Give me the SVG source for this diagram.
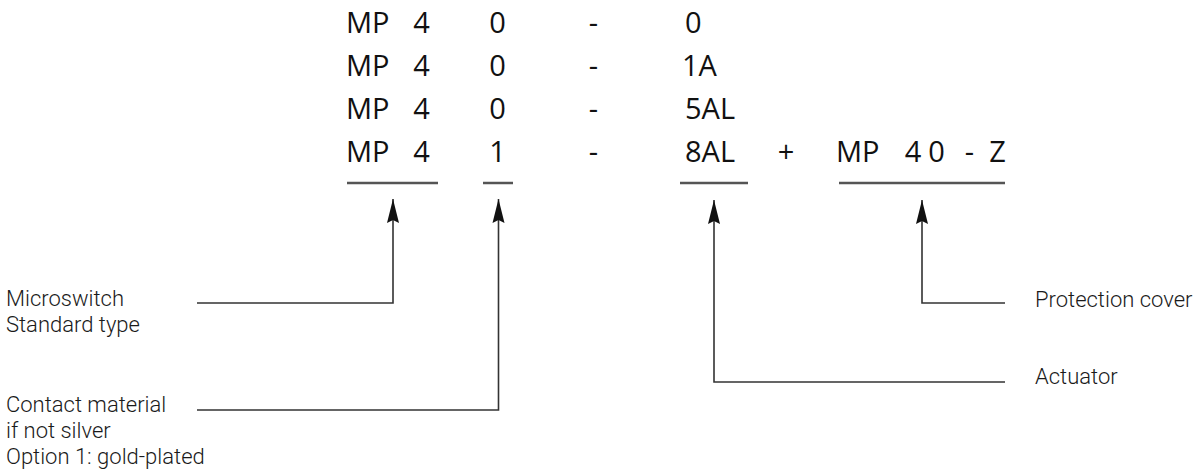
<svg xmlns="http://www.w3.org/2000/svg" width="1199" height="473" viewBox="0 0 1199 473">
<style>
.big{font-family:"Open Sans","Noto Sans","Liberation Sans",sans-serif;font-size:29px;fill:#111}
.lbl{font-family:Roboto,"Open Sans","Liberation Sans",sans-serif;font-size:22px;font-weight:300;fill:#1a1a1a}
.ul{stroke:#555;stroke-width:2.5;fill:none}
.conn{stroke:#333;stroke-width:1.6;fill:none}
.m{text-anchor:middle}
</style>
<defs>
<marker id="arr" viewBox="0 0 24 14" refX="24" refY="7" markerWidth="24" markerHeight="14" markerUnits="userSpaceOnUse" orient="auto">
<path d="M0,1 L24,7 L0,13 L3,7 Z" fill="#111"/>
</marker>
</defs>
<rect width="1199" height="473" fill="#fff"/>
<g id="code">
<text class="big" x="346" y="33">MP</text><text class="big m" x="421.5" y="33">4</text><text class="big m" x="497.5" y="33">0</text><text class="big m" x="593.5" y="33">-</text><text class="big" x="685" y="33">0</text>
<text class="big" x="346" y="76">MP</text><text class="big m" x="421.5" y="76">4</text><text class="big m" x="497.5" y="76">0</text><text class="big m" x="593.5" y="76">-</text><text class="big" x="682" y="76">1A</text>
<text class="big" x="346" y="119">MP</text><text class="big m" x="421.5" y="119">4</text><text class="big m" x="497.5" y="119">0</text><text class="big m" x="593.5" y="119">-</text><text class="big" x="685" y="119">5AL</text>
<text class="big" x="346" y="162">MP</text><text class="big m" x="421.5" y="162">4</text><text class="big m" x="497.5" y="162">1</text><text class="big m" x="593.5" y="162">-</text><text class="big" x="685" y="162">8AL</text>
<text class="big m" x="786" y="162">+</text>
<text class="big" x="836" y="162">MP</text><text class="big m" x="913" y="162">4</text><text class="big m" x="936.5" y="162">0</text><text class="big m" x="969.5" y="162">-</text><text class="big m" x="997.5" y="162">Z</text>
</g>
<g id="underlines">
<line class="ul" x1="347" y1="183" x2="438" y2="183"/>
<line class="ul" x1="483" y1="183" x2="513" y2="183"/>
<line class="ul" x1="680" y1="183" x2="748" y2="183"/>
<line class="ul" x1="839" y1="183" x2="1005" y2="183"/>
</g>
<g id="node-microswitch"><text class="lbl" x="6" y="306">Microswitch</text><text class="lbl" x="6" y="332">Standard type</text></g>
<g id="node-contact"><text class="lbl" x="6" y="412">Contact material</text><text class="lbl" x="6" y="438">if not silver</text><text class="lbl" x="6" y="464">Option 1: gold-plated</text></g>
<g id="node-protection"><text class="lbl" x="1035" y="307">Protection cover</text></g>
<g id="node-actuator"><text class="lbl" x="1035" y="384">Actuator</text></g>
<g id="connectors">
<path class="conn" d="M197,303 H393 V199" marker-end="url(#arr)"/>
<path class="conn" d="M197,410 H498.5 V199" marker-end="url(#arr)"/>
<path class="conn" d="M1005,382 H714 V200" marker-end="url(#arr)"/>
<path class="conn" d="M1005,303 H922 V200" marker-end="url(#arr)"/>
</g>
</svg>
